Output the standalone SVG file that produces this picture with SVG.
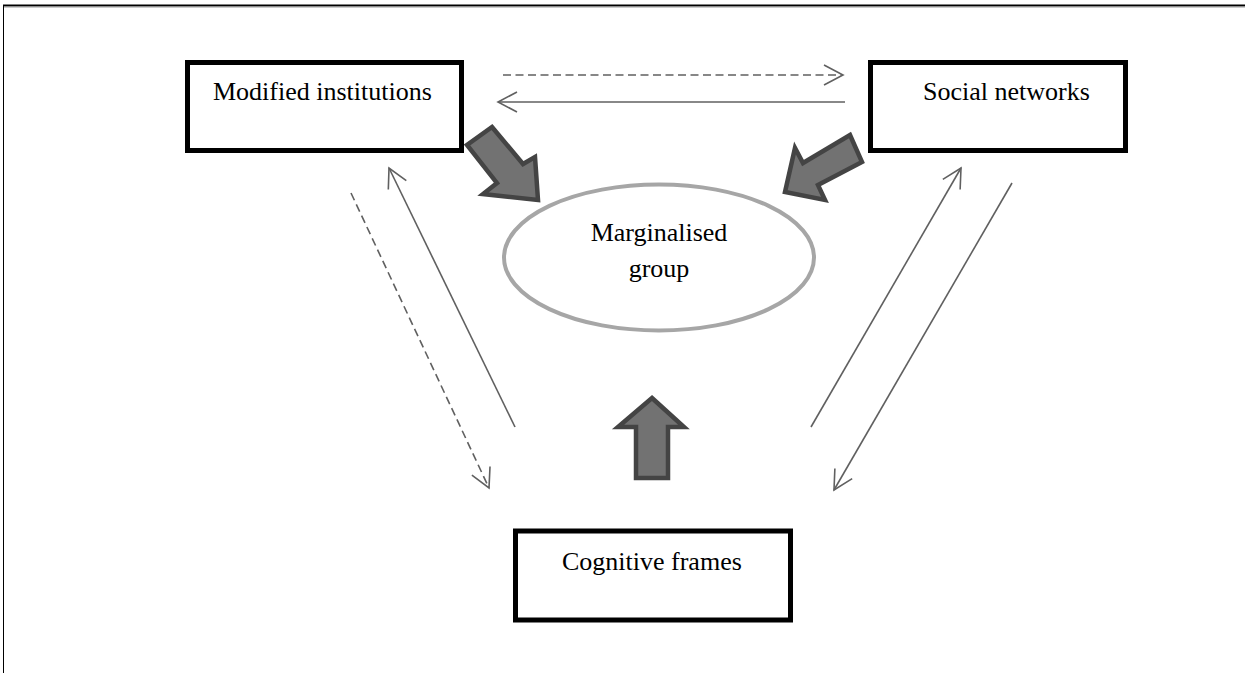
<svg xmlns="http://www.w3.org/2000/svg" width="1245" height="673" viewBox="0 0 1245 673">
  <style>
    .box { fill: #ffffff; stroke: #000000; stroke-width: 5; }
    .lbl { font-family: "Liberation Serif", "Times New Roman", serif; font-size: 26px; fill: #000000; }
    .conn { fill: none; stroke: #606060; stroke-width: 1.6; marker-end: url(#open); }
    .dash { stroke-dasharray: 8 4.5; }
    .block { fill: #727272; stroke: #444444; stroke-width: 4.5; stroke-linejoin: miter; }
  </style>
  <defs>
    <marker id="open" viewBox="-21 -12 24 24" refX="0" refY="0" markerWidth="24" markerHeight="24" markerUnits="userSpaceOnUse" orient="auto">
      <path d="M-19,-10 L0,0 L-19,10" fill="none" stroke="#606060" stroke-width="1.6"/>
    </marker>
  </defs>
  <rect width="1245" height="673" fill="#ffffff"/>
  <g id="frame">
    <line x1="3" y1="5.5" x2="1245" y2="5.5" stroke="#000000" stroke-width="2"/>
    <line x1="3" y1="7" x2="1245" y2="7" stroke="#9a9a9a" stroke-width="1"/>
    <line x1="3.5" y1="5" x2="3.5" y2="673" stroke="#000000" stroke-width="1"/>
  </g>
  <g id="connectors">
    <line class="conn dash" x1="503" y1="75" x2="843" y2="75"/>
    <line class="conn" x1="845" y1="102" x2="498" y2="102"/>
    <line class="conn" x1="515" y1="427" x2="389" y2="168"/>
    <line class="conn dash" x1="351" y1="193" x2="489" y2="488"/>
    <line class="conn" x1="811" y1="427" x2="961" y2="168"/>
    <line class="conn" x1="1012" y1="183" x2="834" y2="490"/>
    <polygon class="block" points="492,127 523,164 535,157 538,200 483,194 497,183 467,145"/>
    <polygon class="block" points="850,135 862,162 818,185 825,200 785,192 795,148 803,163"/>
    <polygon class="block" points="652,398 684,427 668,427 668,478 636,478 636,427 618,427"/>
  </g>
  <g id="modified-institutions">
    <rect class="box" x="187.5" y="62.5" width="274" height="88"/>
    <text class="lbl" x="213" y="100">Modified institutions</text>
  </g>
  <g id="social-networks">
    <rect class="box" x="870.5" y="62.5" width="255" height="88"/>
    <text class="lbl" x="923" y="100">Social networks</text>
  </g>
  <g id="marginalised-group">
    <ellipse cx="659" cy="257.5" rx="155" ry="73" fill="#ffffff" stroke="#a6a6a6" stroke-width="4"/>
    <text class="lbl" x="659" y="241" text-anchor="middle" font-size="25">Marginalised</text>
    <text class="lbl" x="659" y="277" text-anchor="middle" font-size="25">group</text>
  </g>
  <g id="cognitive-frames">
    <rect class="box" x="515.5" y="531" width="275" height="89"/>
    <text class="lbl" x="562" y="570">Cognitive frames</text>
  </g>
</svg>
